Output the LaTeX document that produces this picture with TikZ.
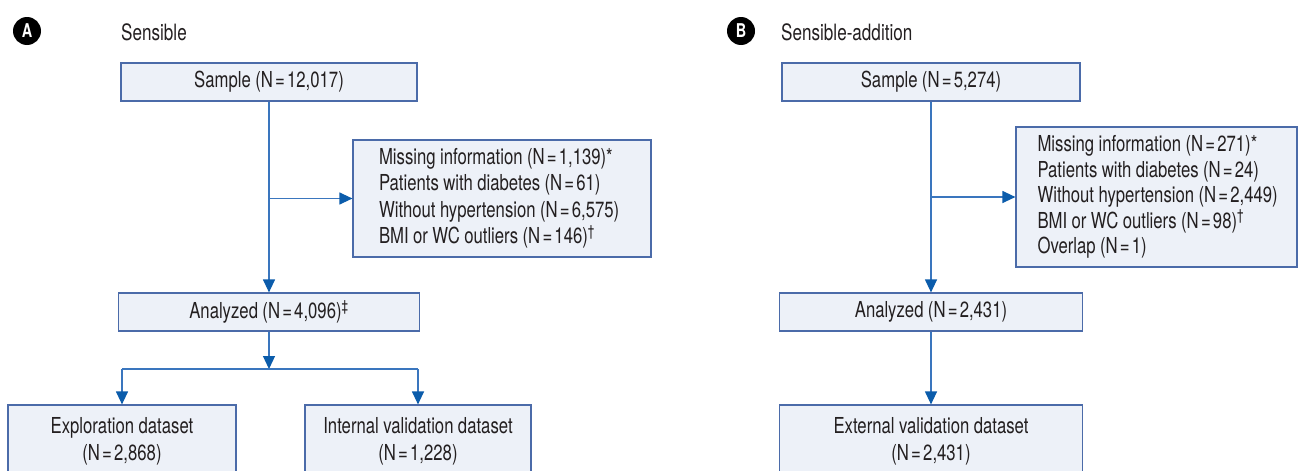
\documentclass[tikz,border=0pt]{standalone}
\usepackage{fontspec}
\setmainfont[FakeStretch=0.76, WordSpace=0.95]{TeX Gyre Heros}
\usetikzlibrary{arrows.meta}
\definecolor{boxfill}{HTML}{EDF1F8}
\definecolor{boxline}{HTML}{4B6BA9}
\definecolor{linkblue}{HTML}{3A76BE}
\definecolor{headblue}{HTML}{0B5CAB}
\definecolor{txt}{HTML}{231F20}
\newcommand{\eqs}{\kern2.2pt=\kern2.2pt}
\newcommand{\xline}[1]{\mbox{\spaceskip=0pt\xspaceskip=0pt\relax #1}}
\hbadness=10000 \hfuzz=100pt
\tikzset{
  fbox/.style={draw=boxline, fill=boxfill, line width=1.2pt, inner sep=0pt, align=center,
    text=txt, font=\fontsize{22}{27}\selectfont},
  exbox/.style={fbox, align=left},
  link/.style={draw=linkblue, line width=1.2pt,
    -{Triangle[width=12pt,length=13pt,color=headblue,fill=headblue]}},
  plain/.style={draw=linkblue, line width=1.2pt},
  badge/.style={circle, fill=black, text=white, inner sep=0pt, minimum size=28pt,
    font=\fontsize{19}{19}\selectfont\bfseries},
  ttl/.style={anchor=west, inner sep=0pt, text=txt, font=\fontsize{22.5}{27}\selectfont},
}
\begin{document}
\begin{tikzpicture}[x=1pt, y=-1pt]
\clip (0,0) rectangle (1298,471);
\fill[white] (0,0) rectangle (1298,471);

% ---------- Panel A ----------
\node[badge] (badgeA) at (27,31) {A};
\node[ttl] (titleA) at (121,32) {Sensible};

\node[fbox, minimum width=296pt, minimum height=38pt] (sampleA) at (269,82)
  {Sample (N\eqs 12,017)};
\node[exbox, text width=246pt, minimum width=298pt, minimum height=117pt,
  font=\fontsize{22}{26.5}\selectfont] (exclA) at (502,198.5)
  {\xline{Missing information (N\eqs 1,139)*}\\
   \xline{Patients with diabetes (N\eqs 61)}\\
   \xline{Without hypertension (N\eqs 6,575)}\\
   \xline{BMI or WC outliers (N\eqs 146)\textsuperscript{\textdagger}}};
\node[fbox, minimum width=301pt, minimum height=38pt] (analyzedA) at (269,312)
  {Analyzed (N\eqs 4,096)\textsuperscript{\textdaggerdbl}};
\node[fbox, minimum width=228pt, minimum height=72pt] (explA) at (122,441)
  {Exploration dataset\\(N\eqs 2,868)};
\node[fbox, minimum width=226pt, minimum height=72pt] (intA) at (418,441)
  {Internal validation dataset\\(N\eqs 1,228)};
\coordinate (jA) at (269,369);

\draw[link] (sampleA.south) -- (sampleA.south |- analyzedA.north);
\draw[link] (sampleA.south |- exclA.west) -- (exclA.west);
\draw[link] (analyzedA.south -| jA) -- (jA);
\draw[plain] (explA.north |- jA) -- (intA.north |- jA);
\draw[link] (explA.north |- jA) -- (explA.north);
\draw[link] (intA.north |- jA) -- (intA.north);

% ---------- Panel B ----------
\node[badge] (badgeB) at (741,31) {B};
\node[ttl] (titleB) at (781,32) {Sensible-addition};

\node[fbox, minimum width=298pt, minimum height=38pt] (sampleB) at (931,82)
  {Sample (N\eqs 5,274)};
\node[exbox, text width=238pt, minimum width=281pt, minimum height=140pt,
  font=\fontsize{22}{25.5}\selectfont] (exclB) at (1156.5,197)
  {\xline{Missing information (N\eqs 271)*}\\
   \xline{Patients with diabetes (N\eqs 24)}\\
   \xline{Without hypertension (N\eqs 2,449)}\\
   \xline{BMI or WC outliers (N\eqs 98)\textsuperscript{\textdagger}}\\
   \xline{Overlap (N\eqs 1)}};
\node[fbox, minimum width=303pt, minimum height=38pt] (analyzedB) at (931,312)
  {Analyzed (N\eqs 2,431)};
\node[fbox, minimum width=303pt, minimum height=72pt] (extB) at (931,441)
  {External validation dataset\\(N\eqs 2,431)};

\draw[link] (sampleB.south) -- (analyzedB.north);
\draw[link] (sampleB.south |- exclB.west) -- (exclB.west);
\draw[link] (analyzedB.south) -- (extB.north);
\end{tikzpicture}
\end{document}
